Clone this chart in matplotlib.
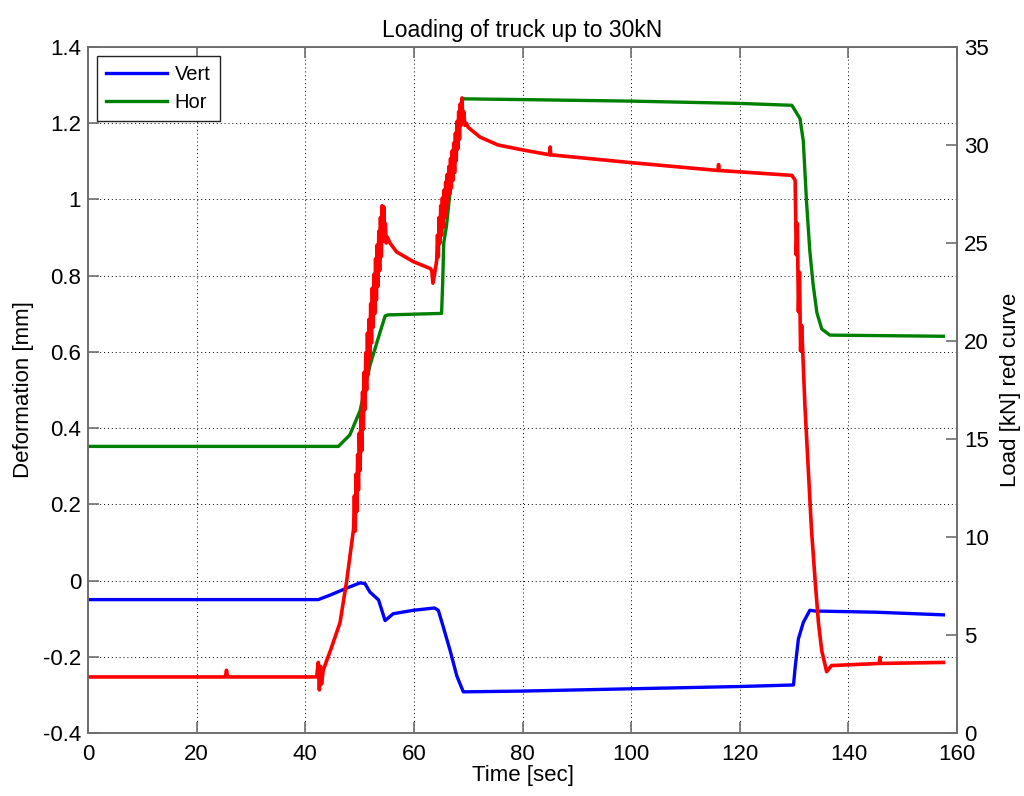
import matplotlib
matplotlib.use("Agg")
import matplotlib.pyplot as plt

plt.rcParams['font.family'] = ['Liberation Sans', 'DejaVu Sans']

# ---- data ----
vert_t = [0, 42.4, 44.6, 47.6, 50.1, 51.0, 51.9, 53.5, 54.7, 56.2, 59.9, 63.8,
          64.5, 65.4, 66.7, 67.9, 69.1, 80, 100, 120, 129.9, 130.2, 130.8,
          131.7, 132.9, 133.9, 145, 157.5]
vert_v = [-0.050, -0.050, -0.038, -0.020, -0.006, -0.008, -0.030, -0.051,
          -0.105, -0.087, -0.078, -0.072, -0.078, -0.121, -0.185, -0.250,
          -0.292, -0.290, -0.284, -0.278, -0.274, -0.228, -0.153, -0.110,
          -0.078, -0.080, -0.083, -0.090]

hor_t = [0, 46.1, 48.2, 50.1, 51.9, 53.5, 54.7, 55.2, 65.1, 65.3, 65.5, 66.0,
         66.7, 67.3, 67.9, 68.6, 69.0, 80, 100, 120, 129.6, 131.1, 131.7,
         132.3, 132.9, 133.5, 134.2, 135.1, 136.6, 157.5]
hor_v = [0.352, 0.352, 0.382, 0.446, 0.564, 0.639, 0.694, 0.697, 0.701, 0.78,
         0.886, 0.93, 1.025, 1.099, 1.185, 1.24, 1.264, 1.262, 1.258, 1.252,
         1.247, 1.212, 1.153, 0.993, 0.865, 0.778, 0.703, 0.660, 0.644, 0.641]

load_t = [0, 25.3, 25.5, 25.7, 42.1, 42.4, 42.6, 42.8, 43.0, 43.3, 44.6, 46.4,
          47.6, 48.9,
          49.05, 49.20, 49.35, 49.50, 49.65, 49.80, 49.95, 50.10, 50.25, 50.40,
          50.55, 50.70, 50.85, 51.00, 51.15, 51.30, 51.45, 51.60, 51.75, 51.90,
          52.05, 52.20, 52.35, 52.50, 52.65, 52.80, 52.95, 53.10, 53.25, 53.40,
          53.55, 53.70, 53.85, 54.00, 54.15, 54.30, 54.45, 54.60, 54.75, 54.90,
          55.10, 55.60, 56.80, 59.90, 63.0, 63.3, 63.5, 63.8, 64.2,
          64.35, 64.50, 64.65, 64.80, 64.95, 65.10, 65.25, 65.40, 65.55, 65.70,
          65.85, 66.00, 66.15, 66.30, 66.45, 66.60, 66.75, 66.90, 67.05, 67.20,
          67.35, 67.50, 67.65, 67.80, 67.95, 68.10, 68.25, 68.40, 68.55, 68.70,
          68.85, 69.0, 69.2, 69.4, 69.7, 70.0, 72.2, 75.5, 80, 85.0,
          85.1, 85.2, 100, 116.0, 116.1, 116.2, 129.6, 130.2, 130.4, 130.6,
          130.8, 131.0, 131.2, 131.4, 132.0, 132.6, 133.2, 133.9, 134.5,
          135.1, 136.0, 136.9, 145.7, 145.8, 145.9, 157.5]
load_v = [2.86, 2.86, 3.2, 2.86, 2.86, 3.6, 2.2, 3.4, 2.5, 3.2, 4.18, 5.63,
          7.70, 10.42,
          12.1, 10.3, 13.2, 11.3, 14.2, 12.4, 15.3, 13.4, 16.3, 14.4,
          17.4, 15.5, 18.4, 16.5, 19.4, 17.5, 20.4, 18.3, 21.1, 19.1,
          21.9, 19.9, 22.7, 20.7, 23.4, 21.4, 24.2, 22.1, 24.9, 22.8,
          25.6, 23.6, 26.3, 24.3, 26.9, 25.1, 26.85, 25.3, 26.0, 25.0,
          25.3, 25.0, 24.55, 24.05, 23.7, 23.6, 22.95, 23.4, 24.1,
          25.4, 24.3, 26.3, 25.0, 26.9, 25.4, 27.3, 25.8, 27.7, 26.3,
          28.1, 26.7, 28.5, 27.1, 28.9, 27.5, 29.3, 27.8, 29.7, 28.2,
          30.1, 28.6, 30.6, 29.2, 31.2, 29.8, 31.7, 30.3, 32.1, 31.0,
          32.4, 31.4, 31.7, 31.0, 31.1, 30.9, 30.4, 30.0, 29.75, 29.5,
          29.9, 29.5, 29.1, 28.7, 29.0, 28.7, 28.45, 28.2, 24.4, 26.0, 21.5,
          23.5, 19.5, 20.8, 16.7, 13.5, 10.4, 7.7, 5.6, 4.2, 3.13, 3.44, 3.55,
          3.85, 3.55, 3.6]

x_ticks = [0, 20, 40, 60, 80, 100, 120, 140, 160]
left_ticks = [-0.4, -0.2, 0, 0.2, 0.4, 0.6, 0.8, 1.0, 1.2, 1.4]
left_labels = ['-0.4', '-0.2', '0', '0.2', '0.4', '0.6', '0.8', '1', '1.2', '1.4']
right_ticks = [0, 5, 10, 15, 20, 25, 30, 35]

# ---- figure ----
fig = plt.figure(figsize=(10.24, 7.96), dpi=100)
ax = fig.add_axes([88 / 1024, 63 / 796, (957 - 88) / 1024, (733 - 47) / 796])
ax2 = ax.twinx()

spine_col = '#6e6e6e'
fs = 16

ax.plot(vert_t, vert_v, color='#0000ff', lw=2.4, label='Vert')
ax.plot(hor_t, hor_v, color='#008000', lw=2.4, label='Hor')
ax2.plot(load_t, load_v, color='#ff0000', lw=2.6)

ax.set_xlim(0, 160)
ax.set_ylim(-0.4, 1.4)
ax2.set_ylim(0, 35)
ax.set_xticks(x_ticks)
ax.set_xticklabels([str(v) for v in x_ticks])
ax.set_yticks(left_ticks)
ax.set_yticklabels(left_labels)
ax2.set_yticks(right_ticks)
ax2.set_yticklabels([str(v) for v in right_ticks])

ax.grid(True, linestyle=(0, (1, 3)), color='black', linewidth=0.7)

for a in (ax, ax2):
    for s in a.spines.values():
        s.set_color(spine_col)
        s.set_linewidth(1.2)
ax.tick_params(axis='both', direction='in', length=8, width=1.2,
               colors=spine_col, labelcolor='black', labelsize=fs,
               top=True, pad=5)
ax.tick_params(axis='x', pad=8)
ax.tick_params(axis='y', right=False)
ax2.tick_params(axis='y', direction='in', length=8, width=1.2,
                colors=spine_col, labelcolor='black', labelsize=fs, pad=5)

ax.set_xlabel('Time [sec]', fontsize=fs, labelpad=0)
ax.set_ylabel('Deformation [mm]', fontsize=fs, labelpad=6)
ax2.set_ylabel('Load [kN] red curve', fontsize=fs, labelpad=8)
ax.set_title('Loading of truck up to 30kN', fontsize=16.5, pad=7)

leg = ax.legend(loc='upper left', fontsize=14.5, handlelength=3.0,
                fancybox=False, framealpha=1, edgecolor='#222222',
                borderpad=0.45, labelspacing=0.45, handletextpad=0.4,
                borderaxespad=0.45)
leg.get_frame().set_linewidth(1.0)

fig.savefig('out.png', dpi=100)
